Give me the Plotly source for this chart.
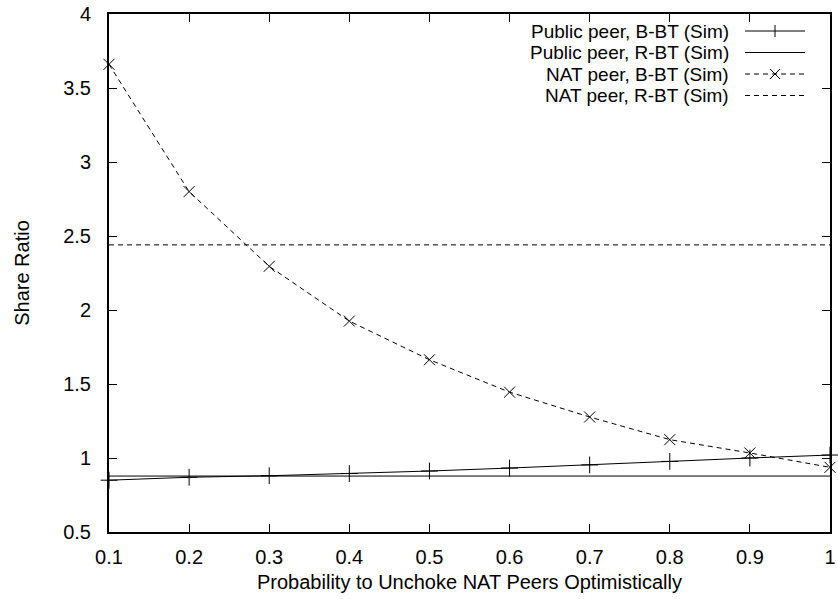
import plotly.graph_objects as go

# ---- data ----
prob = [0.1, 0.2, 0.3, 0.4, 0.5, 0.6, 0.7, 0.8, 0.9, 1.0]
public_bbt = [0.85, 0.87, 0.88, 0.895, 0.912, 0.932, 0.953, 0.977, 1.0, 1.02]
public_rbt = 0.878
nat_bbt = [3.66, 2.80, 2.295, 1.925, 1.664, 1.445, 1.277, 1.124, 1.034, 0.937]
nat_rbt = 2.44

x_ticks = [0.1, 0.2, 0.3, 0.4, 0.5, 0.6, 0.7, 0.8, 0.9, 1.0]
x_ticktext = ["0.1", "0.2", "0.3", "0.4", "0.5", "0.6", "0.7", "0.8", "0.9", "1"]
y_ticks = [0.5, 1, 1.5, 2, 2.5, 3, 3.5, 4]
y_ticktext = ["0.5", "1", "1.5", "2", "2.5", "3", "3.5", "4"]

legend_labels = ["Public peer, B-BT (Sim)", "Public peer, R-BT (Sim)",
                 "NAT peer, B-BT (Sim)", "NAT peer, R-BT (Sim)"]

FONT = "Liberation Sans, Arial, Helvetica, sans-serif"
W, H = 838, 599
L, R, T, B = 109, 8, 14, 67
PW, PH = W - L - R, H - T - B

def px(xpix):
    return (xpix - L) / PW

def py(ypix):
    return (H - B - ypix) / PH

DASH = "5px,4px"

fig = go.Figure()
fig.add_trace(go.Scatter(
    x=prob, y=public_bbt, mode="lines+markers",
    line=dict(color="black", width=1),
    marker=dict(symbol="cross-thin-open", size=12, line=dict(color="black", width=1)),
    cliponaxis=False, showlegend=False))
fig.add_trace(go.Scatter(
    x=[prob[0], prob[-1]], y=[public_rbt, public_rbt], mode="lines",
    line=dict(color="black", width=1), showlegend=False))
fig.add_trace(go.Scatter(
    x=prob, y=nat_bbt, mode="lines+markers",
    line=dict(color="black", width=1, dash=DASH),
    marker=dict(symbol="x-thin-open", size=11, line=dict(color="black", width=1)),
    cliponaxis=False, showlegend=False))
fig.add_trace(go.Scatter(
    x=[prob[0], prob[-1]], y=[nat_rbt, nat_rbt], mode="lines",
    line=dict(color="black", width=1, dash=DASH), showlegend=False))

# ---- custom gnuplot-style legend (text left, sample right) ----
row_y = [31, 52.5, 74, 95.5]
text_right = 730
s0, s1 = 745, 805
smid = (s0 + s1) / 2
dashes = [None, None, "dash", "dash"]
markers = ["plus", None, "x", None]
annotations = []
shapes = []
for lbl, ry, d, m in zip(legend_labels, row_y, dashes, markers):
    annotations.append(dict(
        x=px(text_right), y=py(ry), xref="paper", yref="paper",
        xanchor="right", yanchor="middle", showarrow=False, text=lbl,
        borderpad=0,
        font=dict(family=FONT, size=19, color="black")))
    shapes.append(dict(type="line", xref="paper", yref="paper",
                       x0=px(s0), x1=px(s1), y0=py(ry), y1=py(ry),
                       line=dict(color="black", width=1, dash=DASH if d else "solid")))
    if m == "plus":
        shapes.append(dict(type="line", xref="paper", yref="paper", xsizemode="pixel",
                           xanchor=px(smid), x0=0, x1=0, ysizemode="pixel",
                           yanchor=py(ry), y0=-6, y1=6, line=dict(color="black", width=1)))
    elif m == "x":
        for sgn in (1, -1):
            shapes.append(dict(type="line", xref="paper", yref="paper", xsizemode="pixel",
                               xanchor=px(smid), x0=-5, x1=5, ysizemode="pixel",
                               yanchor=py(ry), y0=-5 * sgn, y1=5 * sgn,
                               line=dict(color="black", width=1)))

fig.update_layout(
    width=W, height=H,
    margin=dict(l=L, r=R, t=T, b=B, pad=0),
    paper_bgcolor="white", plot_bgcolor="white",
    font=dict(family=FONT, size=20, color="black"),
    annotations=annotations, shapes=shapes,
)
fig.update_xaxes(
    range=[0.1, 1.0], tickvals=x_ticks, ticktext=x_ticktext,
    showgrid=False, zeroline=False,
    showline=True, linecolor="black", linewidth=2, mirror="ticks",
    ticks="inside", ticklen=8, tickcolor="black", tickwidth=1,
    ticklabelstandoff=6,
    tickfont=dict(family=FONT, size=20),
    title=dict(text="Probability to Unchoke NAT Peers Optimistically",
               font=dict(family=FONT, size=20), standoff=8),
    automargin=False,
)
fig.update_yaxes(
    range=[0.5, 4.0], tickvals=y_ticks, ticktext=y_ticktext,
    showgrid=False, zeroline=False,
    showline=True, linecolor="black", linewidth=2, mirror="ticks",
    ticks="inside", ticklen=8, tickcolor="black", tickwidth=1,
    ticklabelstandoff=12,
    tickfont=dict(family=FONT, size=20),
    title=dict(text="Share Ratio", font=dict(family=FONT, size=20), standoff=28),
    automargin=False,
)

fig.write_html("out.html")
